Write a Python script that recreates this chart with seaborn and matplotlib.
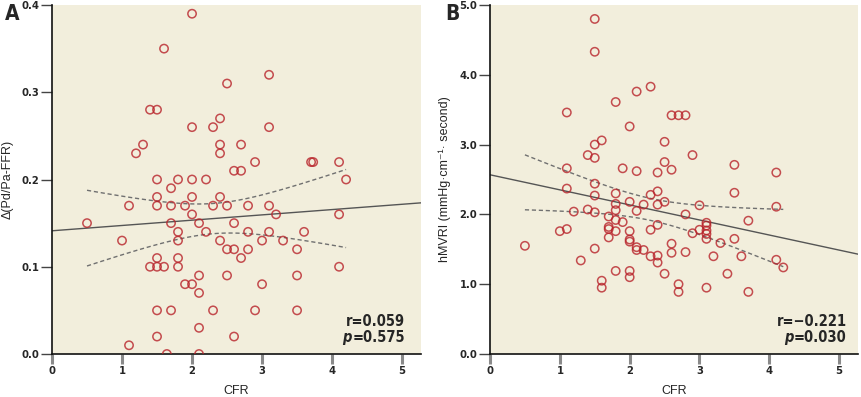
import numpy as np
import pandas as pd
import matplotlib
matplotlib.use("Agg")
import matplotlib.pyplot as plt
from matplotlib import font_manager
import seaborn as sns

# ---- Panel A data: CFR vs delta(Pd/Pa-FFR) ----
cfr_a = [2.0, 1.6, 3.1, 2.5, 1.4, 1.5, 2.4, 2.0, 2.3, 3.1,
         2.4, 1.3, 2.7, 1.2, 2.4, 2.9, 3.7, 3.73, 4.1, 2.6,
         2.7, 1.5, 1.8, 2.0, 2.2, 4.2, 1.7, 1.5, 2.0, 2.4,
         1.1, 1.5, 1.7, 1.9, 2.3, 2.5, 2.8, 3.1, 2.0, 3.2,
         4.1, 0.5, 1.7, 2.1, 2.6, 1.8, 2.2, 2.8, 3.1, 3.6,
         1.0, 1.8, 2.4, 3.0, 3.3, 2.5, 2.6, 2.8, 3.5, 1.5,
         1.8, 2.7, 1.4, 1.5, 1.6, 1.8, 4.1, 2.1, 2.5, 3.5,
         1.9, 2.0, 3.0, 2.1, 1.5, 1.7, 2.3, 2.9, 3.5, 2.1,
         1.5, 2.6, 1.1, 1.64, 2.1]
dffr_a = [0.39, 0.35, 0.32, 0.31, 0.28, 0.28, 0.27, 0.26, 0.26, 0.26,
          0.24, 0.24, 0.24, 0.23, 0.23, 0.22, 0.22, 0.22, 0.22, 0.21,
          0.21, 0.20, 0.20, 0.20, 0.20, 0.20, 0.19, 0.18, 0.18, 0.18,
          0.17, 0.17, 0.17, 0.17, 0.17, 0.17, 0.17, 0.17, 0.16, 0.16,
          0.16, 0.15, 0.15, 0.15, 0.15, 0.14, 0.14, 0.14, 0.14, 0.14,
          0.13, 0.13, 0.13, 0.13, 0.13, 0.12, 0.12, 0.12, 0.12, 0.11,
          0.11, 0.11, 0.10, 0.10, 0.10, 0.10, 0.10, 0.09, 0.09, 0.09,
          0.08, 0.08, 0.08, 0.07, 0.05, 0.05, 0.05, 0.05, 0.05, 0.03,
          0.02, 0.02, 0.01, 0.00, 0.00]

# ---- Panel B data: CFR vs hMVRI ----
cfr_b = [1.5, 1.5, 2.3, 2.1, 1.8, 1.1, 2.6, 2.7, 2.8, 2.0,
         1.6, 2.5, 1.5, 1.4, 2.9, 1.5, 2.5, 3.5, 1.1, 1.9,
         2.6, 2.1, 2.4, 4.1, 1.5, 1.1, 2.4, 3.5, 1.8, 2.3,
         1.5, 2.0, 2.5, 1.8, 2.2, 2.4, 3.0, 4.1, 1.4, 1.8,
         2.1, 1.2, 1.5, 2.8, 1.7, 1.8, 3.7, 1.9, 3.1, 2.4,
         3.1, 1.7, 1.7, 1.1, 1.0, 1.8, 2.0, 2.3, 3.0, 3.1,
         3.1, 2.9, 1.7, 3.1, 3.5, 2.0, 2.0, 2.6, 3.3, 0.5,
         2.1, 1.5, 2.1, 2.2, 2.8, 2.6, 2.3, 2.4, 3.2, 3.6,
         1.3, 4.1, 2.4, 4.2, 1.8, 2.0, 2.5, 3.4, 2.0, 1.6,
         1.6, 2.7, 2.7, 3.1, 3.7]
hmvri_b = [4.80, 4.33, 3.83, 3.76, 3.61, 3.46, 3.42, 3.42, 3.42, 3.26,
           3.06, 3.04, 3.00, 2.85, 2.85, 2.81, 2.75, 2.71, 2.66, 2.66,
           2.64, 2.62, 2.60, 2.60, 2.44, 2.37, 2.33, 2.31, 2.30, 2.28,
           2.27, 2.18, 2.18, 2.15, 2.14, 2.14, 2.13, 2.11, 2.07, 2.06,
           2.05, 2.04, 2.03, 2.00, 1.97, 1.92, 1.91, 1.89, 1.88, 1.85,
           1.84, 1.82, 1.79, 1.79, 1.76, 1.76, 1.76, 1.78, 1.78, 1.77,
           1.72, 1.73, 1.67, 1.65, 1.65, 1.64, 1.61, 1.58, 1.59, 1.55,
           1.53, 1.51, 1.49, 1.49, 1.46, 1.45, 1.40, 1.41, 1.40, 1.40,
           1.34, 1.35, 1.31, 1.24, 1.19, 1.19, 1.15, 1.15, 1.10, 1.05,
           0.95, 1.00, 0.89, 0.95, 0.89]

x_ticks = [0, 1, 2, 3, 4, 5]
ya_ticks = [0.0, 0.1, 0.2, 0.3, 0.4]
yb_ticks = [0.0, 1.0, 2.0, 3.0, 4.0, 5.0]
stats_a = ("r=0.059", "0.575")
stats_b = ("r=\u22120.221", "0.030")

sns.set_theme(style="white")

# pick a condensed face for ticks / annotations if one is installed
names = {f.name for f in font_manager.fontManager.ttflist}
if 'Liberation Sans Narrow' in names:
    COND = dict(family=['Liberation Sans Narrow', 'DejaVu Sans'])
else:
    COND = dict(family=['DejaVu Sans'], stretch='condensed')
plt.rcParams['font.family'] = ['Liberation Sans', 'DejaVu Sans']

BG = '#F2EEDC'
RED = '#B8232A'
FS_STAT = 10.5

fig = plt.figure(figsize=(8.62, 3.97), dpi=100)
axA = fig.add_axes([52/862, 43/397, 369/862, 349/397])
axB = fig.add_axes([490/862, 43/397, 368/862, 349/397])


def ci_band(x, y, grid, t=1.99):
    x = np.asarray(x, float); y = np.asarray(y, float)
    n = len(x)
    b, a = np.polyfit(x, y, 1)
    resid = y - (a + b * x)
    s = np.sqrt(np.sum(resid ** 2) / (n - 2))
    xm = x.mean(); sxx = np.sum((x - xm) ** 2)
    yhat = a + b * grid
    se = s * np.sqrt(1.0 / n + (grid - xm) ** 2 / sxx)
    return yhat - t * se, yhat + t * se


def panel(ax, x, y, yticks, ylim, ylabel, stats, xr):
    df = pd.DataFrame({'x': x, 'y': y})
    ax.set_facecolor(BG)
    ax.set_xlim(0, 5.27)
    ax.set_ylim(*ylim)
    sns.regplot(data=df, x='x', y='y', ax=ax, ci=None, truncate=False,
                scatter_kws=dict(s=36, facecolors='none', edgecolors=RED,
                                 linewidths=1.1, zorder=3),
                line_kws=dict(color='#555555', lw=1.0, zorder=2))
    grid = np.linspace(min(x), max(x), 100)
    lo, hi = ci_band(x, y, grid)
    ax.plot(grid, lo, ls=(0, (3, 2)), color='#707070', lw=1.0, zorder=2)
    ax.plot(grid, hi, ls=(0, (3, 2)), color='#707070', lw=1.0, zorder=2)
    ax.set_xlim(0, 5.27)
    ax.set_ylim(*ylim)
    ax.set_xticks(x_ticks)
    ax.set_xticklabels([str(v) for v in x_ticks], fontweight='bold', **COND)
    ax.set_yticks(yticks)
    ax.set_yticklabels(['{:.1f}'.format(v) for v in yticks], fontweight='bold', **COND)
    for s in ['top', 'right']:
        ax.spines[s].set_visible(False)
    for s in ['left', 'bottom']:
        ax.spines[s].set_color('#111111')
        ax.spines[s].set_linewidth(1.2)
    ax.tick_params(axis='x', direction='out', length=7, width=2.2,
                   color='#8a8a8a', labelsize=8, pad=2, bottom=True)
    ax.tick_params(axis='y', direction='out', length=8, width=1.0,
                   color='#444444', labelsize=8, pad=1, left=True)
    ax.set_xlabel('CFR', fontsize=9, labelpad=6)
    ax.set_ylabel(ylabel, fontsize=9, labelpad=6)
    ax.text(xr, 0.093, stats[0], transform=ax.transAxes, ha='right',
            va='center', fontsize=FS_STAT, fontweight='bold', **COND)
    t = ax.text(xr, 0.048, '=' + stats[1], transform=ax.transAxes,
                ha='right', va='center', fontsize=FS_STAT, fontweight='bold', **COND)
    return t


tA = panel(axA, cfr_a, dffr_a, ya_ticks, (0, 0.4), '\u0394(Pd/Pa-FFR)', stats_a, 0.957)
tB = panel(axB, cfr_b, hmvri_b, yb_ticks, (0, 5.0),
           'hMVRI (mmHg\u00b7cm\u207b\u00b9\u00b7 second)', stats_b, 0.969)

# italic p placed just left of "=value"
fig.canvas.draw()
for ax, t in ((axA, tA), (axB, tB)):
    bb = t.get_window_extent().transformed(ax.transAxes.inverted())
    ax.text(bb.x0 - 0.002, 0.048, 'p', transform=ax.transAxes, ha='right',
            va='center', fontsize=FS_STAT, fontweight='bold', style='italic', **COND)

fig.text(5/862, 1 - 14/397, 'A', fontsize=15, fontweight='bold', va='center',
         ha='left', **COND)
fig.text(445/862, 1 - 14/397, 'B', fontsize=15, fontweight='bold', va='center',
         ha='left', **COND)

fig.savefig('out.png', dpi=100, facecolor='white')
